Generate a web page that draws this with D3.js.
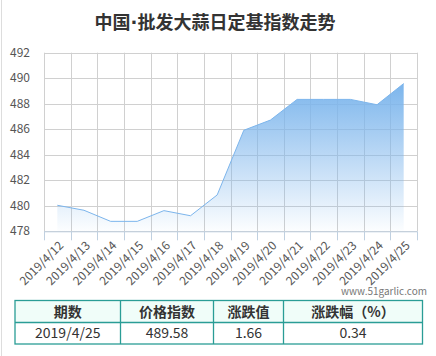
<!DOCTYPE html>
<html><head><meta charset="utf-8">
<script src="https://cdn.jsdelivr.net/npm/d3@7"></script>
<style>
html,body{margin:0;padding:0;background:#fff;}
body{width:436px;height:356px;overflow:hidden;font-family:"Microsoft YaHei","Noto Sans CJK SC","DejaVu Sans",sans-serif;}
</style></head><body>
<svg id="c" width="436" height="356"></svg>
<script>
const categories=["2019/4/12","2019/4/13","2019/4/14","2019/4/15","2019/4/16","2019/4/17","2019/4/18","2019/4/19","2019/4/20","2019/4/21","2019/4/22","2019/4/23","2019/4/24","2019/4/25"];
const values=[480.04,479.65,478.78,478.78,479.62,479.22,480.85,485.92,486.72,488.34,488.34,488.34,487.92,489.58];
const yTicks=[478,480,482,484,486,488,490,492];
const titleParts=["中国","·","批发大蒜日定基指数走势"];
const watermark="www.51garlic.com";
const tableHeader=["期数","价格指数","涨跌值","涨跌幅（%）"];
const tableRow=["2019/4/25","489.58","1.66","0.34"];

const svg=d3.select("#c");
const font='"Noto Sans CJK SC","DejaVu Sans",sans-serif';
svg.append("line").attr("x1",1.5).attr("x2",1.5).attr("y1",0).attr("y2",356).attr("stroke","#ddd");

const L=44,R=417,T=52.7,B=231.3;
const x=d3.scaleBand().domain(categories).range([L,R]);
const y=d3.scaleLinear().domain([478,492]).range([B,T]);

const tt=svg.append("text").attr("x",215).attr("y",29).attr("text-anchor","middle")
 .attr("font-family",font).attr("font-weight","bold").attr("font-size",18).attr("fill","#333");
tt.selectAll("tspan").data(titleParts).join("tspan")
 .attr("font-family",(d,i)=>i===1?'"DejaVu Sans",sans-serif':font).text(d=>d);

const g=svg.append("g");
g.selectAll("line.h").data(yTicks).join("line").attr("x1",L).attr("x2",R)
 .attr("y1",d=>Math.round(y(d))+0.5).attr("y2",d=>Math.round(y(d))+0.5).attr("stroke","#d0d0d0");
const bounds=categories.map(c=>x(c)).concat([R]);
g.selectAll("line.v").data(bounds).join("line")
 .attr("x1",d=>Math.round(d)+0.5).attr("x2",d=>Math.round(d)+0.5).attr("y1",T).attr("y2",B).attr("stroke","#d0d0d0");

const defs=svg.append("defs");
const grad=defs.append("linearGradient").attr("id","gr").attr("x1",0).attr("y1",0).attr("x2",0).attr("y2",1);
grad.append("stop").attr("offset","0%").attr("stop-color","#7cb5ec").attr("stop-opacity",1);
grad.append("stop").attr("offset","100%").attr("stop-color","#7cb5ec").attr("stop-opacity",0.02);

const cx=d=>x(d)+x.bandwidth()/2;
const area=d3.area().x((d,i)=>cx(categories[i])).y0(B).y1(d=>y(d));
svg.append("path").datum(values).attr("d",area).attr("fill","url(#gr)");
const line=d3.line().x((d,i)=>cx(categories[i])).y(d=>y(d));
svg.append("path").datum(values).attr("d",line).attr("fill","none").attr("stroke","#7cb5ec").attr("stroke-width",1);

svg.append("g").selectAll("text").data(yTicks).join("text")
 .attr("x",30).attr("y",d=>y(d)+4).attr("text-anchor","end")
 .attr("font-family",font).attr("font-size",12).attr("fill","#555").text(d=>d);

const xa=svg.append("g").attr("transform",`translate(0,${B})`)
 .call(d3.axisBottom(x).tickSize(0).tickFormat(""));
xa.select(".domain").attr("stroke","#c0d0e0").attr("d",`M${L},0.5H${R}`);
xa.selectAll(".tick").remove();
svg.append("g").selectAll("line").data(bounds).join("line")
 .attr("x1",d=>Math.round(d)+0.5).attr("x2",d=>Math.round(d)+0.5).attr("y1",B).attr("y2",B+9).attr("stroke","#c0d0e0");
svg.append("g").selectAll("text").data(categories).join("text")
 .attr("transform",d=>`translate(${cx(d)+4},${B+12}) rotate(-45)`)
 .attr("text-anchor","end").attr("dy","0.35em")
 .attr("font-family",font).attr("font-size",12).attr("fill","#555").text(d=>d);

svg.append("text").attr("x",427).attr("y",295).attr("text-anchor","end")
 .attr("font-family",font).attr("font-size",10).attr("fill","#777").text(watermark);

const colX=[15,120.5,213.5,283.5,422.5];
const tT=300.5,tM=322.5,tB=344;
svg.append("rect").attr("x",colX[0]).attr("y",tT).attr("width",colX[4]-colX[0]).attr("height",tM-tT).attr("fill","#f0fdf9");
svg.append("rect").attr("x",colX[0]).attr("y",tT).attr("width",colX[4]-colX[0]).attr("height",tB-tT).attr("fill","none").attr("stroke","#2a9d96").attr("stroke-width",1.3);
svg.append("line").attr("x1",colX[0]).attr("x2",colX[4]).attr("y1",tM).attr("y2",tM).attr("stroke","#2a9d96").attr("stroke-width",1.3);
svg.selectAll("line.col").data(colX.slice(1,4)).join("line").attr("x1",d=>d).attr("x2",d=>d).attr("y1",tT).attr("y2",tB).attr("stroke","#2a9d96").attr("stroke-width",1.3);
const mid=i=>(colX[i]+colX[i+1])/2;
svg.append("g").selectAll("text").data(tableHeader).join("text")
 .attr("x",(d,i)=>mid(i)).attr("y",(tT+tM)/2+5).attr("text-anchor","middle")
 .attr("font-family",font).attr("font-weight","bold").attr("font-size",14).attr("fill","#333").text(d=>d);
svg.append("g").selectAll("text").data(tableRow).join("text")
 .attr("x",(d,i)=>mid(i)).attr("y",(tM+tB)/2+5).attr("text-anchor","middle")
 .attr("font-family",font).attr("font-size",14).attr("fill","#333").text(d=>d);
</script></body></html>
